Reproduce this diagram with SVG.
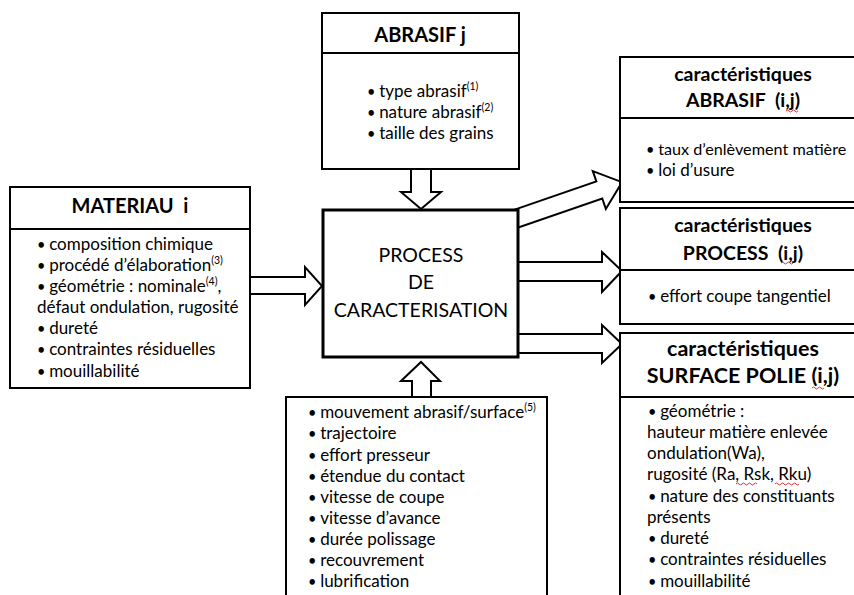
<svg xmlns="http://www.w3.org/2000/svg" width="854" height="595" viewBox="0 0 854 595">
<style>
text{font-family:Lato,"Liberation Sans",sans-serif;fill:#000;white-space:pre;}
.box{fill:#fff;stroke:#000;stroke-width:2;}
.sep{stroke:#000;stroke-width:2;}
.hdr{font-weight:bold;font-size:20px;text-anchor:middle;}
.hdr2{font-weight:bold;font-size:19.5px;text-anchor:middle;}
.hdr3{font-weight:bold;font-size:21.5px;text-anchor:middle;}
.it{font-size:17px;}
.b{font-size:14.5px;}
.proc{font-size:19.5px;text-anchor:middle;}
.arr{fill:#fff;stroke:#000;stroke-width:2;stroke-linejoin:miter;}
.sup{font-size:10.5px;}
.sq{fill:none;stroke:#e03030;stroke-width:1;}
</style>
<rect width="854" height="595" fill="#fff"/>
<g id="connectors">
<polygon class="arr" points="411,167 431,167 431,192 441,192 421,209 401,192 411,192"/>
<polygon class="arr" points="412,399 431,399 431,381 440,381 421,362 401,381 412,381"/>
<polygon class="arr" points="248,277 305,277 305,267 322,286 305,305 305,294 248,294"/>
<polygon class="arr" points="516,262 602,262 602,252 622,271 602,292 602,281 516,281"/>
<polygon class="arr" points="516,334 602,334 602,325 622,344 602,363 602,353 516,353"/>
<polygon class="arr" transform="translate(518,218) rotate(-19)" points="-5,-9 86,-9 86,-20 110,0 86,20 86,9 -5,9"/>
</g>
<g id="abrasif">
<rect class="box" x="322" y="13" width="197" height="156"/>
<line class="sep" x1="322" y1="53" x2="519" y2="53"/>
<text class="hdr" x="420" y="42">ABRASIF j</text>
<text class="it" x="367" y="97"><tspan class="b">• </tspan>type abrasif<tspan class="sup" dy="-7">(1)</tspan></text>
<text class="it" x="367" y="118"><tspan class="b">• </tspan>nature abrasif<tspan class="sup" dy="-7">(2)</tspan></text>
<text class="it" x="367" y="139"><tspan class="b">• </tspan>taille des grains</text>
</g>
<g id="materiau">
<rect class="box" x="10" y="187" width="240" height="201"/>
<line class="sep" x1="10" y1="229" x2="250" y2="229"/>
<text class="hdr" x="130" y="213">MATERIAU  i</text>
<text class="it" x="37" y="250"><tspan class="b">• </tspan>composition chimique</text>
<text class="it" x="37" y="271"><tspan class="b">• </tspan>procédé d’élaboration<tspan class="sup" dy="-7">(3)</tspan></text>
<text class="it" x="37" y="292"><tspan class="b">• </tspan>géométrie : nominale<tspan class="sup" dy="-7">(4)</tspan><tspan dy="7">,</tspan></text>
<text class="it" x="37" y="313">défaut ondulation, rugosité</text>
<text class="it" x="37" y="334"><tspan class="b">• </tspan>dureté</text>
<text class="it" x="37" y="355"><tspan class="b">• </tspan>contraintes résiduelles</text>
<text class="it" x="37" y="377"><tspan class="b">• </tspan>mouillabilité</text>
</g>
<g id="process">
<rect x="323" y="210" width="195" height="147" fill="#fff" stroke="#000" stroke-width="3"/>
<text class="proc" x="421" y="262">PROCESS</text>
<text class="proc" x="421" y="289">DE</text>
<text class="proc" x="421" y="317">CARACTERISATION</text>
</g>
<g id="parametres">
<rect class="box" x="286" y="397" width="261" height="210"/>
<text class="it" x="308" y="418"><tspan class="b">• </tspan>mouvement abrasif/surface<tspan class="sup" dy="-7">(5)</tspan></text>
<text class="it" x="308" y="439"><tspan class="b">• </tspan>trajectoire</text>
<text class="it" x="308" y="461"><tspan class="b">• </tspan>effort presseur</text>
<text class="it" x="308" y="482"><tspan class="b">• </tspan>étendue du contact</text>
<text class="it" x="308" y="503"><tspan class="b">• </tspan>vitesse de coupe</text>
<text class="it" x="308" y="524"><tspan class="b">• </tspan>vitesse d’avance</text>
<text class="it" x="308" y="545"><tspan class="b">• </tspan>durée polissage</text>
<text class="it" x="308" y="566"><tspan class="b">• </tspan>recouvrement</text>
<text class="it" x="308" y="587"><tspan class="b">• </tspan>lubrification</text>
</g>
<g id="carac-abrasif">
<rect class="box" x="620" y="57" width="245" height="145"/>
<line class="sep" x1="620" y1="118" x2="865" y2="118"/>
<text class="hdr2" x="743" y="81">caractéristiques</text>
<text class="hdr2" x="743" y="107">ABRASIF  (i,j)</text>
<path class="sq" d="M786,111 q1.5,-2 3,0 t3,0 t3,0 t3,0"/>
<text class="it" x="646" y="155" style="font-size:16.2px"><tspan class="b">• </tspan>taux d’enlèvement matière</text>
<text class="it" x="646" y="176"><tspan class="b">• </tspan>loi d’usure</text>
</g>
<g id="carac-process">
<rect class="box" x="620" y="208" width="245" height="116"/>
<line class="sep" x1="620" y1="270" x2="865" y2="270"/>
<text class="hdr2" x="743" y="232">caractéristiques</text>
<text class="hdr2" x="743" y="260">PROCESS  (i,j)</text>
<path class="sq" d="M781,263 q1.5,-2 3,0 t3,0 t3,0 t3,0"/>
<text class="it" x="648" y="302"><tspan class="b">• </tspan>effort coupe tangentiel</text>
</g>
<g id="carac-surface">
<rect class="box" x="620" y="333" width="245" height="280"/>
<line class="sep" x1="620" y1="397" x2="865" y2="397"/>
<text class="hdr3" x="743" y="356">caractéristiques</text>
<text class="hdr3" x="743" y="383">SURFACE POLIE (i,j)</text>
<path class="sq" d="M812,388 q1.5,-2 3,0 t3,0 t3,0 t3,0"/>
<text class="it" x="648" y="417"><tspan class="b">• </tspan>géométrie :</text>
<text class="it" x="647" y="438">hauteur matière enlevée</text>
<text class="it" x="647" y="459">ondulation(Wa),</text>
<text class="it" x="647" y="480">rugosité (Ra, Rsk, Rku)</text>
<path class="sq" d="M736,484 q1.5,-2 3,0 t3,0 t3,0 t3,0 t3,0 t3,0 t3,0 M775,484 q1.5,-2 3,0 t3,0 t3,0 t3,0 t3,0 t3,0 t3,0 t3,0"/>
<text class="it" x="648" y="502"><tspan class="b">• </tspan>nature des constituants</text>
<text class="it" x="647" y="523">présents</text>
<text class="it" x="648" y="544"><tspan class="b">• </tspan>dureté</text>
<text class="it" x="648" y="565"><tspan class="b">• </tspan>contraintes résiduelles</text>
<text class="it" x="648" y="587"><tspan class="b">• </tspan>mouillabilité</text>
</g>
</svg>
